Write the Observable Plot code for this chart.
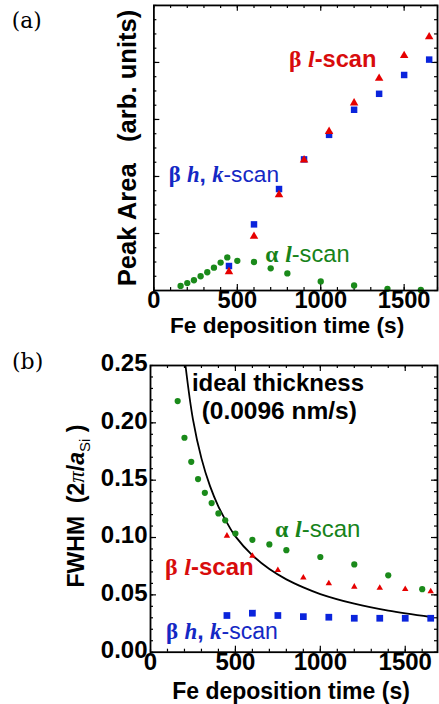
<!DOCTYPE html>
<html><head><meta charset="utf-8">
<script src="https://cdn.jsdelivr.net/npm/d3@7"></script>
<script src="https://cdn.jsdelivr.net/npm/@observablehq/plot@0.6"></script>
<style>
html,body{margin:0;padding:0;background:#fff;overflow:hidden;width:439px;height:704px;}
#wrap{position:relative;width:439px;height:704px;overflow:hidden;background:#fff;}
#wrap svg{position:absolute;left:0;}
</style></head><body><div id="wrap"></div>
<script>
// ---------- data ----------
const timeBeta = [450, 600, 750, 900, 1050, 1200, 1350, 1500, 1650];
const timeAlpha = [160, 200, 240, 280, 320, 360, 400, 440, 500, 600, 700, 800, 1000, 1200, 1400, 1600];

// (a) peak area, arb. units
const areaBetaHK = [0.43, 1.16, 1.78, 2.30, 2.73, 3.17, 3.45, 3.78, 4.05];
const areaBetaL  = [0.33, 0.95, 1.68, 2.29, 2.79, 3.29, 3.72, 4.12, 4.45];
const areaAlphaL = [0.08, 0.13, 0.18, 0.25, 0.32, 0.40, 0.49, 0.58, 0.52, 0.50, 0.39, 0.30, 0.16, 0.09, 0.03, 0.01];

// (b) FWHM (2pi/a_Si)
const fwhmAlphaL = [0.219, 0.187, 0.166, 0.151, 0.139, 0.130, 0.121, 0.115, 0.1035, 0.098, 0.094, 0.089, 0.083, 0.0765, 0.067, 0.055];
const fwhmBetaL  = [0.1015, 0.084, 0.0715, 0.065, 0.060, 0.057, 0.056, 0.055, 0.053];
const fwhmBetaHK = [0.032, 0.034, 0.032, 0.031, 0.0305, 0.0296, 0.0296, 0.0296, 0.0296];

// ideal thickness curve
const idealTime = [206, 250, 300, 350, 400, 450, 500, 600, 700, 800, 900, 1000, 1200, 1400, 1650];
const idealFwhm = [0.25, 0.203, 0.169, 0.145, 0.127, 0.113, 0.101, 0.0845, 0.0725, 0.0635, 0.0565, 0.0507, 0.0423, 0.0362, 0.0307];

// tick labels
const xTickLabels = [0, 500, 1000, 1500];
const yTickLabelsB = [0, 0.05, 0.10, 0.15, 0.20, 0.25];

// ---------- styling ----------
const sans = "'Liberation Sans', Arial, Helvetica, sans-serif";
const serif = "'Liberation Serif', 'Times New Roman', serif";
const GREEN = "#1a8a1a", RED = "#e60000", BLUE = "#0a24dc";
const RED_T = "#d80c0c", BLUE_T = "#1428c4", GREEN_T = "#17831a";

const rows = (xs, ys) => xs.map((x, i) => ({x, y: ys[i]}));

function tickMarks(xMinor, xMajor, yMinor, yMajor, innerW, innerH) {
  const sw = 1.2, mn = 3, mj = 6;
  return [
    Plot.ruleX(xMinor, {x: d => d, insetTop: innerH - mn, strokeWidth: sw}),
    Plot.ruleX(xMinor, {x: d => d, insetBottom: innerH - mn, strokeWidth: sw}),
    Plot.ruleX(xMajor, {x: d => d, insetTop: innerH - mj, strokeWidth: sw}),
    Plot.ruleX(xMajor, {x: d => d, insetBottom: innerH - mj, strokeWidth: sw}),
    Plot.ruleY(yMinor, {y: d => d, insetRight: innerW - mn, strokeWidth: sw}),
    Plot.ruleY(yMinor, {y: d => d, insetLeft: innerW - mn, strokeWidth: sw}),
    Plot.ruleY(yMajor, {y: d => d, insetRight: innerW - mj, strokeWidth: sw}),
    Plot.ruleY(yMajor, {y: d => d, insetLeft: innerW - mj, strokeWidth: sw})
  ];
}

function addRich(svg, x, y, parts, opts = {}) {
  const t = d3.select(svg).append("text")
    .attr("x", x).attr("y", y)
    .attr("font-family", sans)
    .attr("font-size", opts.size || 23)
    .attr("fill", opts.fill || "#000")
    .attr("text-anchor", opts.anchor || "start");
  if (opts.rotate) t.attr("transform", `rotate(${opts.rotate},${x},${y})`);
  for (const p of parts) {
    const s = t.append("tspan").text(p.t);
    if (p.f) s.attr("font-family", p.f);
    s.attr("font-weight", p.w || "normal");
    if (p.i) s.attr("font-style", "italic");
    if (p.s) s.attr("font-size", p.s);
    if (p.dy) s.attr("dy", p.dy);
  }
  return t;
}

const wrap = document.getElementById("wrap");
const tickFont = {fontSize: 24, fontWeight: "bold", fontFamily: sans, fill: "#000"};

// ---------- panel (a) ----------
const A = {w: 445, h: 346, ml: 155.5, mr: 2, mt: 5, mb: 52};
const chartA = Plot.plot({
  width: A.w, height: A.h,
  marginLeft: A.ml, marginRight: A.mr, marginTop: A.mt, marginBottom: A.mb,
  x: {domain: [0, 1700], axis: null},
  y: {domain: [0, 5], axis: null},
  style: {fontFamily: sans, color: "#000", background: "transparent"},
  marks: [
    ...tickMarks(d3.range(0, 1701, 100), [500, 1000, 1500], d3.range(0, 5.01, 0.25), [1, 2, 3, 4],
                 A.w - A.ml - A.mr, A.h - A.mt - A.mb),
    Plot.dot(rows(timeAlpha, areaAlphaL), {x: "x", y: "y", r: 3.2, fill: GREEN, stroke: null}),
    Plot.dot(rows(timeBeta, areaBetaHK), {x: "x", y: "y", r: 3.7, symbol: "square", fill: BLUE, stroke: null}),
    Plot.dot(rows(timeBeta, areaBetaL), {x: "x", y: "y", r: 3.2, symbol: "triangle", fill: RED, stroke: null}),
    Plot.frame({stroke: "#000", strokeWidth: 1.8}),
    Plot.text(xTickLabels, {x: d => d, text: d => String(d), frameAnchor: "bottom", lineAnchor: "top", dy: 1, ...tickFont})
  ]
});
chartA.style.top = "0px";
wrap.appendChild(chartA);

// ---------- panel (b) ----------
const B = {w: 439, h: 364, ml: 150, mr: 2, mt: 25, mb: 52.3};
const chartB = Plot.plot({
  width: B.w, height: B.h,
  marginLeft: B.ml, marginRight: B.mr, marginTop: B.mt, marginBottom: B.mb,
  x: {domain: [0, 1690], axis: null},
  y: {domain: [0, 0.25], axis: null},
  style: {fontFamily: sans, color: "#000", background: "transparent"},
  marks: [
    ...tickMarks(d3.range(0, 1690, 100), [500, 1000, 1500], d3.range(0, 0.2501, 0.01), [0.05, 0.1, 0.15, 0.2],
                 B.w - B.ml - B.mr, B.h - B.mt - B.mb),
    Plot.line(rows(idealTime, idealFwhm), {x: "x", y: "y", curve: "catmull-rom", stroke: "#000", strokeWidth: 1.8, clip: true}),
    Plot.dot(rows(timeAlpha, fwhmAlphaL), {x: "x", y: "y", r: 3.1, fill: GREEN, stroke: null}),
    Plot.dot(rows(timeBeta, fwhmBetaL), {x: "x", y: "y", r: 2.4, symbol: "triangle", fill: RED, stroke: null}),
    Plot.dot(rows(timeBeta, fwhmBetaHK), {x: "x", y: "y", r: 3.8, symbol: "square", fill: BLUE, stroke: null}),
    Plot.frame({stroke: "#000", strokeWidth: 1.8}),
    Plot.text(xTickLabels, {x: d => d, text: d => String(d), frameAnchor: "bottom", lineAnchor: "top", dy: 1, ...tickFont}),
    Plot.text(yTickLabelsB, {y: d => d, text: d3.format(".2f"), frameAnchor: "left", textAnchor: "end", dx: -3, dy: -2, ...tickFont})
  ]
});
chartB.style.top = "340px";
wrap.appendChild(chartB);

// ---------- annotations (positions in data units) ----------
const xa = chartA.scale("x"), ya = chartA.scale("y");
const xb = chartB.scale("x"), yb = chartB.scale("y");

const annotA = [
  {x: 813, y: 3.91, size: 24, fill: RED_T, parts: [{t: "β", f: serif, w: "bold"}, {t: " "}, {t: "l", f: serif, w: "bold", i: true}, {t: "-scan", w: "bold"}]},
  {x: 92, y: 1.89, size: 23, fill: BLUE_T, parts: [{t: "β", f: serif, w: "bold"}, {t: " "}, {t: "h", f: serif, w: "bold", i: true}, {t: ", ", w: "bold"}, {t: "k", f: serif, w: "bold", i: true}, {t: "-scan"}]},
  {x: 671, y: 0.49, size: 24, fill: GREEN_T, parts: [{t: "α", f: serif, w: "bold"}, {t: " "}, {t: "l", f: serif, w: "bold", i: true}, {t: "-scan"}]}
];
for (const a of annotA) addRich(chartA, xa.apply(a.x), ya.apply(a.y), a.parts, {fill: a.fill, size: a.size});

const annotB = [
  {x: 247, y: 0.2276, size: 24, fill: "#000", parts: [{t: "ideal thickness", w: "bold"}]},
  {x: 304, y: 0.2027, size: 24.5, fill: "#000", parts: [{t: "(0.0096 nm/s)", w: "bold"}]},
  {x: 736, y: 0.0998, size: 24, fill: GREEN_T, parts: [{t: "α", f: serif, w: "bold"}, {t: " "}, {t: "l", f: serif, w: "bold", i: true}, {t: "-scan"}]},
  {x: 88, y: 0.0669, size: 24, fill: RED_T, parts: [{t: "β", f: serif, w: "bold"}, {t: " "}, {t: "l", f: serif, w: "bold", i: true}, {t: "-scan", w: "bold"}]},
  {x: 94, y: 0.0111, size: 23, fill: BLUE_T, parts: [{t: "β", f: serif, w: "bold"}, {t: " "}, {t: "h", f: serif, w: "bold", i: true}, {t: ", ", w: "bold"}, {t: "k", f: serif, w: "bold", i: true}, {t: "-scan"}]}
];
for (const a of annotB) addRich(chartB, xb.apply(a.x), yb.apply(a.y), a.parts, {fill: a.fill, size: a.size});

// ---------- axis titles & panel labels ----------
addRich(chartA, 291, 337.5, [{t: "Fe deposition time (s)", w: "bold"}], {anchor: "middle", size: 23});
addRich(chartB, 291, 358.5, [{t: "Fe deposition time (s)", w: "bold"}], {anchor: "middle", size: 23});
addRich(chartA, 138, 150, [{t: "Peak Area\u00a0\u00a0\u00a0(arb. units)", w: "bold"}], {anchor: "middle", size: 26, rotate: -90});
addRich(chartB, 84, 166, [
  {t: "FWHM\u00a0\u00a0(2", w: "bold"}, {t: "π", f: serif, i: true}, {t: "/", w: "bold"},
  {t: "a", w: "bold", i: true}, {t: "Si", s: 15, dy: 6}, {t: "\u00a0)", w: "bold", dy: -6}
], {anchor: "middle", size: 23, rotate: -90});
addRich(chartA, 12, 28, [{t: "(a)"}], {size: 22}).attr("font-family", "'DejaVu Serif', serif");
addRich(chartB, 12, 29, [{t: "(b)"}], {size: 22}).attr("font-family", "'DejaVu Serif', serif");
</script></body></html>
